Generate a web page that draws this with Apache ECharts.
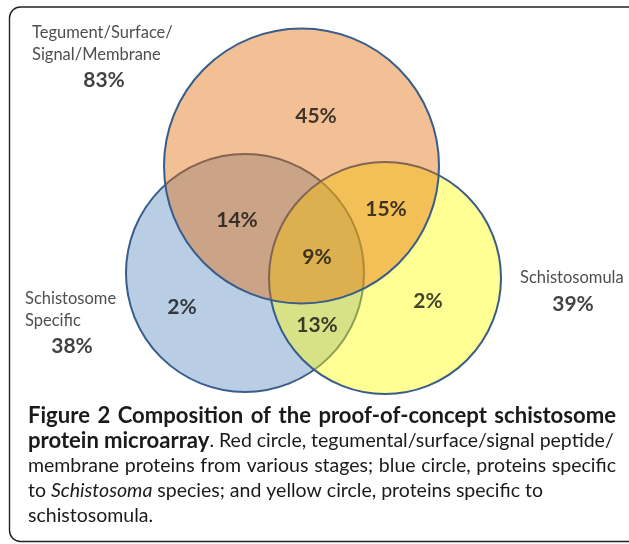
<!DOCTYPE html>
<html>
<head>
<meta charset="utf-8">
<script src="https://cdn.jsdelivr.net/npm/echarts@6/dist/echarts.min.js"></script>
<style>
  html, body { margin: 0; padding: 0; background: #fff; }
  #main { width: 629px; height: 544px; }
</style>
</head>
<body>
<div id="main"></div>
<script>
// circles: blue (schistosome specific), yellow (schistosomula), red (tegument...)
const circleX = [245, 385, 301.5];
const circleY = [273, 278, 166];
const circleR = [119, 116, 137.5];
const circleFill = ['#b9cde5', 'rgba(255,255,0,0.42)', 'rgba(228,108,10,0.43)'];

// region percentages
const regionText = ['45%', '14%', '15%', '9%', '2%', '13%', '2%'];
const regionX = [316, 237, 386, 317, 182, 317, 428];
const regionY = [116, 220, 209, 257, 307, 325, 301];

// set names and totals
const setNames = ['Tegument/Surface/\nSignal/Membrane', 'Schistosome\nSpecific', 'Schistosomula'];
const setNameX = [32, 25, 520];
const setNameY = [22, 288, 267];
const setTotals = ['83%', '38%', '39%'];
const totalX = [104, 72, 573];
const totalY = [80, 346, 304];

// caption
const captionLines = [
  [['b', 'Figure 2 Composition of the proof-of-concept schistosome']],
  [['b', 'protein microarray'], ['n', '. Red circle, tegumental/surface/signal peptide/']],
  [['n', 'membrane proteins from various stages; blue circle, proteins specific']],
  [['n', 'to '], ['i', 'Schistosoma'], ['n', ' species; and yellow circle, proteins specific to']],
  [['n', 'schistosomula.']]
];
const captionRight = [616, 600, 616, 0, 0];

const FONT = 'Lato';
const capFonts = {
  b: { fontWeight: 'bold', fontStyle: 'normal', fontSize: 18 },
  n: { fontWeight: 'normal', fontStyle: 'normal', fontSize: 17 },
  i: { fontWeight: 'normal', fontStyle: 'italic', fontSize: 17 }
};
const capLeft = 28;
const capTop = 416;
const capStep = 25;

const ctx = document.createElement('canvas').getContext('2d');
const fontStr = k => {
  const f = capFonts[k];
  return f.fontStyle + ' ' + f.fontWeight + ' ' + f.fontSize + 'px ' + FONT;
};
const measure = (txt, k) => {
  ctx.font = fontStr(k);
  return ctx.measureText(txt).width;
};

// bold size from line 1, regular size from line 4 (which is not justified)
const fitSize = (txt, k, target) => {
  const w = measure(txt, k);
  return Math.round(capFonts[k].fontSize * target / w * 10) / 10;
};
capFonts.b.fontSize = fitSize(captionLines[0][0][1], 'b', 575);
capFonts.n.fontSize = fitSize(captionLines[3].map(r => r[1]).join(''), 'n', 549 - capLeft);
capFonts.i.fontSize = capFonts.n.fontSize;

const captionGraphics = [];
captionLines.forEach((runs, li) => {
  // split runs into words, remember if a space comes before
  const toks = [];
  let pendingSpace = false;
  runs.forEach(([k, txt]) => {
    const parts = txt.split(' ');
    parts.forEach((p, pi) => {
      if (pi > 0) pendingSpace = true;
      if (p === '') return;
      toks.push({ t: p, k, gap: toks.length > 0 && pendingSpace });
      pendingSpace = false;
    });
  });
  let space = measure(' ', 'n');
  const widths = toks.map(o => measure(o.t, o.k));
  const gaps = toks.filter(o => o.gap).length;
  if (captionRight[li] && gaps) {
    const natural = widths.reduce((a, b) => a + b, 0) + gaps * space;
    space += Math.max(0, (captionRight[li] - capLeft - natural) / gaps);
  }
  let x = capLeft;
  toks.forEach((o, i) => {
    if (o.gap) x += space;
    captionGraphics.push({
      type: 'text',
      x: x,
      y: capTop + li * capStep,
      style: {
        text: o.t,
        fill: '#1a1a1a',
        font: fontStr(o.k),
        verticalAlign: 'middle',
        align: 'left'
      }
    });
    x += widths[i];
  });
});

const chart = echarts.init(document.getElementById('main'));

const textData = [];
regionText.forEach((t, i) => {
  textData.push({
    value: [regionX[i], regionY[i]],
    label: { formatter: t, fontSize: 21, fontWeight: 'bold', color: '#111', position: 'inside' }
  });
});
setNames.forEach((t, i) => {
  textData.push({
    value: [setNameX[i], setNameY[i]],
    label: { formatter: t, fontSize: 16.5, color: '#222', position: [0, 0], align: 'left', verticalAlign: 'top', lineHeight: 22 }
  });
});
setTotals.forEach((t, i) => {
  textData.push({
    value: [totalX[i], totalY[i]],
    label: { formatter: t, fontSize: 21, fontWeight: 'bold', color: '#111', position: 'inside' }
  });
});

const option = {
  animation: false,
  backgroundColor: '#fff',
  grid: { left: 0, right: 0, top: 0, bottom: 0 },
  xAxis: { type: 'value', min: 0, max: 629, show: false },
  yAxis: { type: 'value', min: 0, max: 544, inverse: true, show: false },
  graphic: [
    {
      type: 'rect',
      shape: { x: 9.5, y: 7, width: 700, height: 534.5, r: 11 },
      style: { fill: 'none', stroke: '#222', lineWidth: 1.4 }
    }
  ].concat(captionGraphics),
  series: [
    {
      type: 'custom',
      data: circleX.map((x, i) => [x, circleY[i], circleR[i]]),
      renderItem: (params, api) => {
        const c = api.coord([api.value(0), api.value(1)]);
        const r = api.size([api.value(2), 0])[0];
        return {
          type: 'circle',
          shape: { cx: c[0], cy: c[1], r: r },
          style: { fill: circleFill[params.dataIndex], stroke: '#385d8a', lineWidth: 2 }
        };
      },
      z: 1
    },
    {
      type: 'scatter',
      symbolSize: 0,
      data: textData,
      label: { show: true, fontFamily: FONT },
      z: 5
    }
  ]
};

chart.setOption(option);
</script>
</body>
</html>
